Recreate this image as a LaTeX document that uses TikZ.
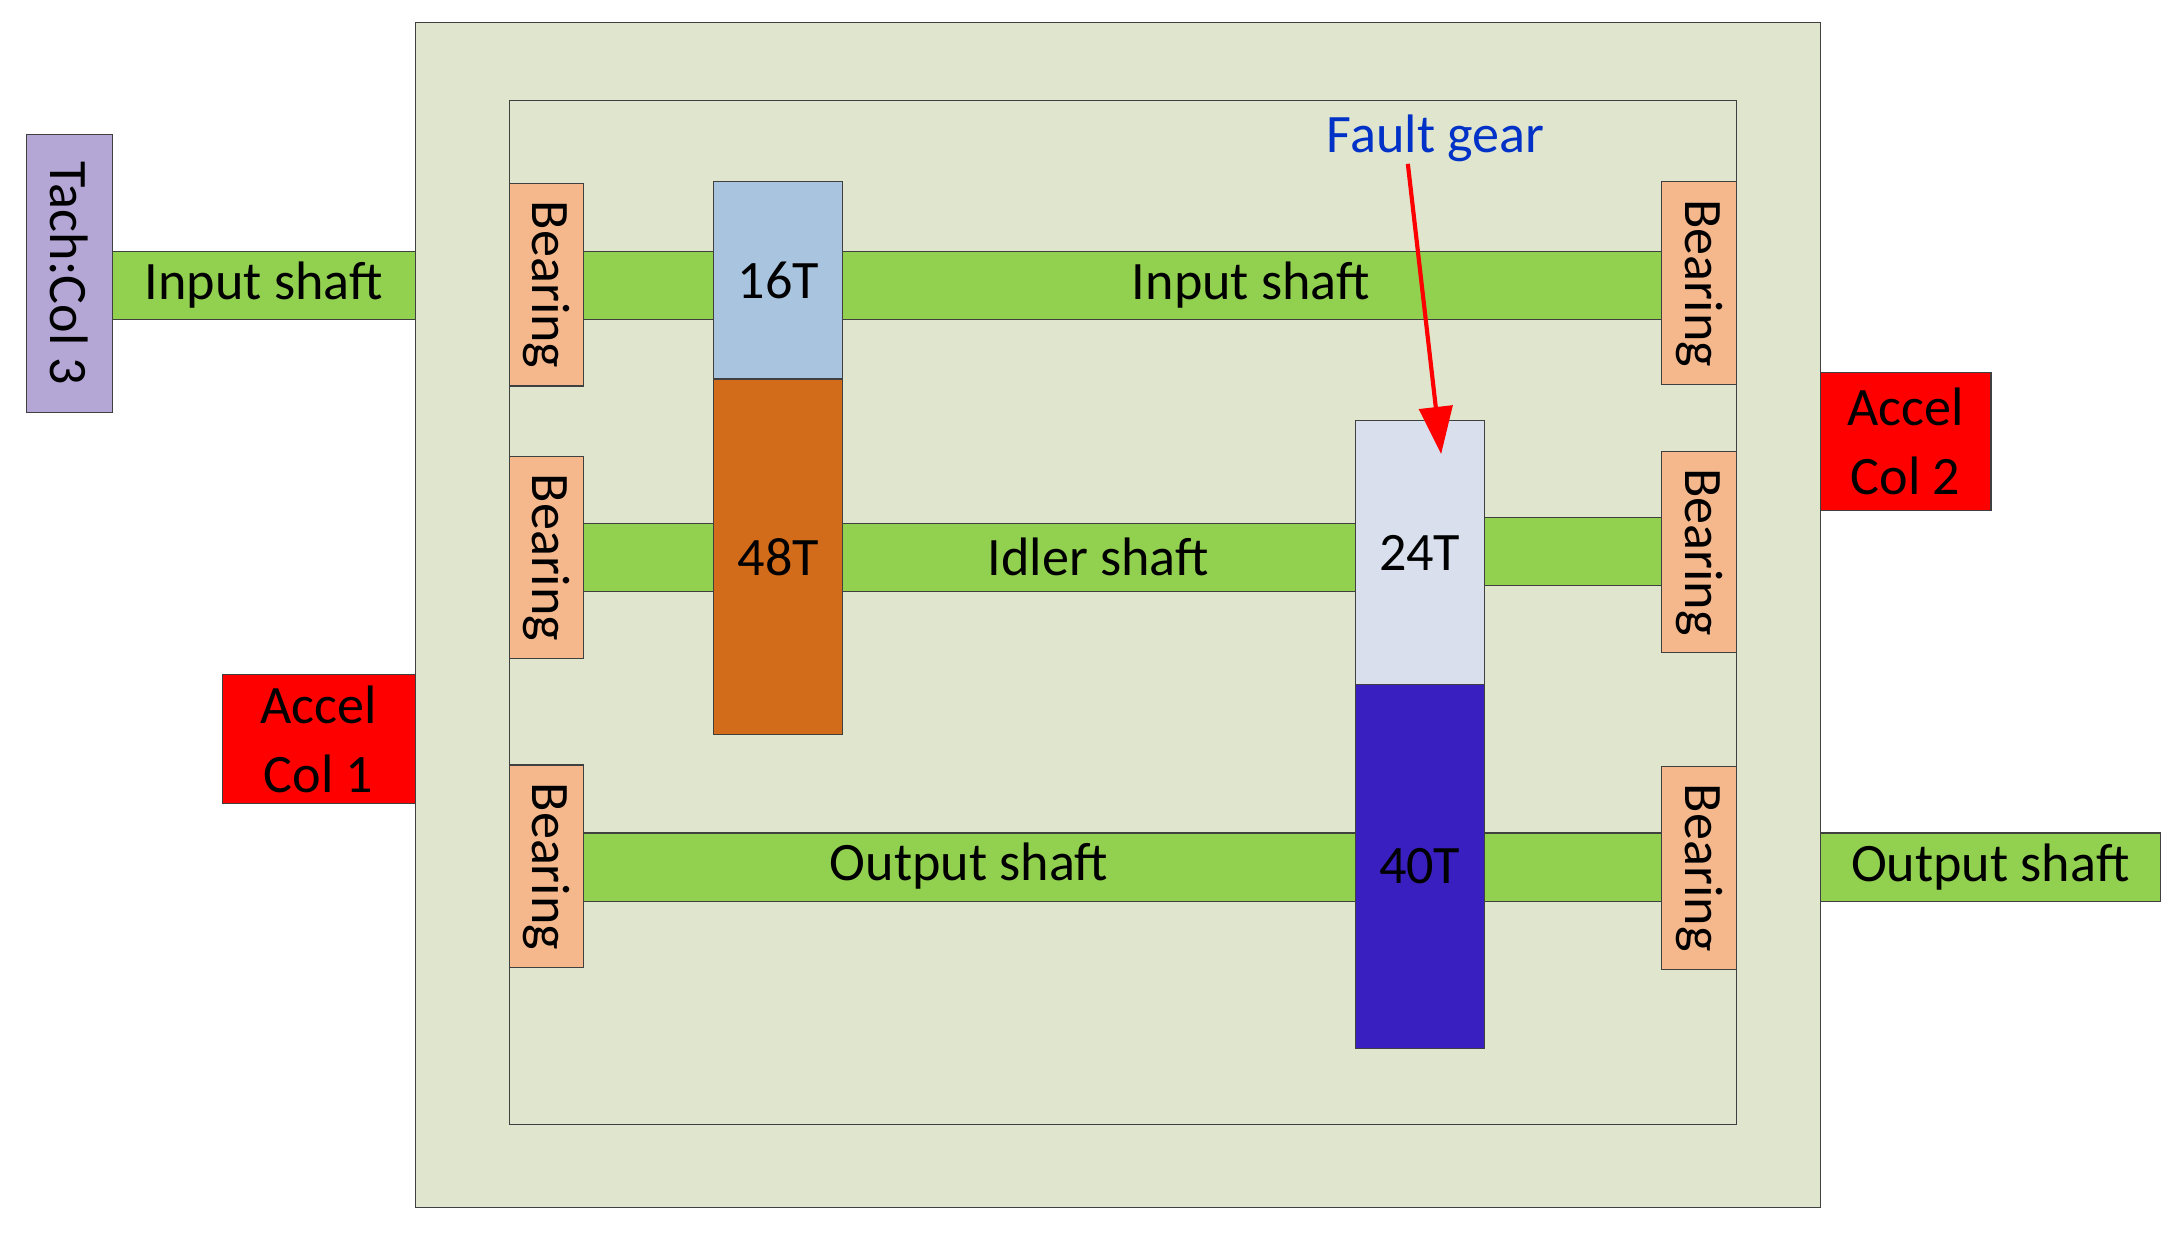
\documentclass[tikz,border=0pt]{standalone}
\usepackage{fontspec}
\setmainfont{Carlito}
\usetikzlibrary{arrows.meta}
\begin{document}
\begin{tikzpicture}[x=1pt,y=-1pt,
  bx/.style={draw=black!75,line width=0.8pt,inner sep=0pt,font=\fontsize{39}{44}\selectfont},
  shaft/.style={bx,fill={rgb,255:red,146;green,208;blue,80}},
  bear/.style={bx,fill={rgb,255:red,244;green,184;blue,140},rotate=-90},
  acc/.style={bx,fill=red,align=center,font=\fontsize{39}{50}\selectfont}]
\useasboundingbox (0,0) rectangle (1568,889);
\node[bx,fill={rgb,255:red,224;green,229;blue,205},minimum width=1012,minimum height=854] (outer) at (805,443) {};
\node[bx,fill={rgb,255:red,224;green,229;blue,205},minimum width=884,minimum height=738,line width=0.6pt] (inner) at (809,441) {};
% outside parts
\node[bx,fill={rgb,255:red,180;green,167;blue,214},minimum width=200,minimum height=62,rotate=-90] (tach) at (50,197) {Tach:Col 3};
\node[shaft,minimum width=218,minimum height=49] (ins) at (190,205.5) {Input shaft};
\node[acc,minimum width=139,minimum height=93] (a1) at (229.5,532.5) {Accel\\Col 1};
\node[acc,minimum width=123,minimum height=100] (a2) at (1372.5,318) {Accel\\Col 2};
\node[shaft,minimum width=245,minimum height=49] (outs) at (1433.5,624.5) {Output shaft};
% inner shafts
\node[shaft,minimum width=777,minimum height=49] (is) at (808.5,205.5) {};
\node[shaft,minimum width=556,minimum height=49] (ids) at (698,401.5) {};
\node[shaft,minimum width=128,minimum height=49] (ids2) at (1133,397.5) {};
\node[shaft,minimum width=777,minimum height=49] (os) at (808.5,624.5) {};
\node[font=\fontsize{39}{44}\selectfont] at (901,205) {Input shaft};
\node[font=\fontsize{39}{44}\selectfont] at (791,401) {Idler shaft};
\node[font=\fontsize{39}{44}\selectfont] at (698,624) {Output shaft};
% bearings
\node[bear,minimum width=146,minimum height=53] (b1) at (393.5,205) {Bearing};
\node[bear,minimum width=145,minimum height=53] (b2) at (393.5,401.5) {Bearing};
\node[bear,minimum width=146,minimum height=53] (b3) at (393.5,624) {Bearing};
\node[bear,minimum width=146,minimum height=54] (b4) at (1224,204) {Bearing};
\node[bear,minimum width=145,minimum height=54] (b5) at (1224,397.5) {Bearing};
\node[bear,minimum width=146,minimum height=54] (b6) at (1224,625) {Bearing};
% gears
\node[bx,fill={rgb,255:red,169;green,196;blue,222},minimum width=93,minimum height=142] (g16) at (560.5,202) {16T};
\node[bx,fill={rgb,255:red,210;green,107;blue,26},minimum width=93,minimum height=256] (g48) at (560.5,401) {48T};
\node[bx,fill={rgb,255:red,217;green,223;blue,236},minimum width=93,minimum height=190] (g24) at (1022.5,398) {24T};
\node[bx,fill={rgb,255:red,58;green,31;blue,192},minimum width=93,minimum height=262] (g40) at (1022.5,624) {40T};
% fault
\node[text={rgb,255:red,0;green,50;blue,200},font=\fontsize{39}{44}\selectfont] (fg) at (1034,100) {Fault gear};
\coordinate (ft) at (1038,327);
\draw[red,line width=3pt,-{Triangle[length=34pt,width=24pt]}] (1014,118) -- (ft);
\end{tikzpicture}
\end{document}
